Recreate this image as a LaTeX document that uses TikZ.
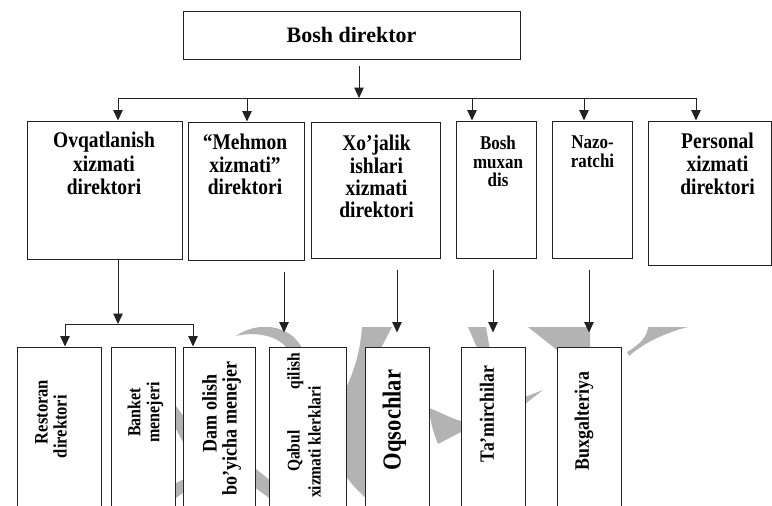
\documentclass[tikz,border=0pt]{standalone}
\usepackage{fontspec}
\setmainfont{Liberation Serif}
\newfontfamily\nrw{Liberation Serif}[FakeStretch=0.87]
\usepackage{tikz}
\usetikzlibrary{positioning,arrows.meta,calc}
\definecolor{ink}{HTML}{222222}
\definecolor{wmark}{HTML}{B3B3B3}
\tikzset{
  box/.style={draw=ink,fill=white,line width=1pt,inner sep=0pt},
  arr/.style={draw=ink,line width=1pt,-{Triangle[width=9.5pt,length=10.5pt]}},
  ttl/.style={anchor=north,align=center,inner sep=0pt,font=\nrw\bfseries\fontsize{22.4}{#1}\selectfont},
  ttl/.default=23.3,
  vtx/.style={rotate=90,align=left,inner sep=0pt},
}
\begin{document}
\begin{tikzpicture}[x=1pt,y=-1pt]
    \useasboundingbox (0,0) rectangle (772,506);
    % watermark behind the lower row
    \begin{scope}
      \clip (0,327) rectangle (772,506);
      \fill[wmark] (236,336) .. controls (255,322) and (290,322) .. (303,350) -- (288,350) .. controls (280,336) and (256,331) .. cycle;
      \fill[wmark] (362,327) -- (392,327) -- (380,350) -- (380,500) -- (368,500) .. controls (355,488) and (345,478) .. (340,465) -- (340,400) .. controls (352,378) and (360,355) .. cycle;
      \fill[wmark] (429,408) .. controls (440,412) and (450,418) .. (461,421) -- (525,397) -- (543,390) -- (525,404) -- (461,432) -- (438,444) .. controls (433,432) and (430,420) .. cycle;
      \fill[wmark] (468,327) -- (486,327) -- (490,350) -- (478,350) -- cycle;
      \fill[wmark] (528,327) -- (590,327) -- (590,350) -- (557,350) -- cycle;
      \fill[wmark] (627,352) .. controls (640,345) and (648,335) .. (648,327) -- (688,327) .. controls (665,333) and (645,342) .. (629,356) -- cycle;
      \fill[wmark] (170,398) -- (190,425) -- (190,455) -- (170,418) -- cycle;
      \fill[wmark] (170,486) -- (190,476) -- (190,488) -- (170,502) -- cycle;
      \fill[wmark] (250,464) -- (272,482) -- (272,500) -- (250,484) -- cycle;
    \end{scope}
    % top
    \node[box,minimum width=337pt,minimum height=48pt,font=\bfseries\fontsize{22}{26}\selectfont] (top) at (351.5,35) {Bosh direktor};
    % second row
    \node[box,minimum width=155pt,minimum height=138pt] (ovq) at (104.5,190) {};
    \node[box,minimum width=116pt,minimum height=138pt] (meh) at (246,191) {};
    \node[box,minimum width=129pt,minimum height=136pt] (xoj) at (375.5,190) {};
    \node[box,minimum width=80pt,minimum height=137pt] (mux) at (496,189.5) {};
    \node[box,minimum width=80pt,minimum height=137pt] (naz) at (592,189.5) {};
    \node[box,minimum width=123pt,minimum height=144pt] (per) at (709.5,193) {};
    \node[ttl] (ovqT) at (104,132) {Ovqatlanish\\xizmati\\direktori};
    \node[ttl=22.5] (mehT) at (245,134) {“Mehmon\\xizmati”\\direktori};
    \node[ttl=22.3] (xojT) at (376.5,135) {Xo’jalik\\ishlari\\xizmati\\direktori};
    \node[ttl,font=\nrw\bfseries\fontsize{19.5}{18.5}\selectfont] (muxT) at (498,136) {Bosh\\muxan\\dis};
    \node[ttl,font=\nrw\bfseries\fontsize{19.5}{18.5}\selectfont] (nazT) at (592.5,136) {Nazo-\\ratchi};
    \node[ttl=22.7] (perT) at (717.5,133) {Personal\\xizmati\\direktori};
    % third row
    \node[box,minimum width=84pt,minimum height=183pt] (res) at (59,438.5) {};
    \node[box,minimum width=64pt,minimum height=183pt] (ban) at (143,438.5) {};
    \node[box,minimum width=72pt,minimum height=183pt] (dam) at (219,438.5) {};
    \node[box,minimum width=77pt,minimum height=183pt] (qab) at (307.5,438.5) {};
    \node[box,minimum width=64pt,minimum height=183pt] (oqs) at (397,438.5) {};
    \node[box,minimum width=64pt,minimum height=183pt] (tam) at (493,438.5) {};
    \node[box,minimum width=64pt,minimum height=183pt] (bux) at (589,438.5) {};
    \node[vtx,font=\nrw\bfseries\fontsize{19}{19}\selectfont] (resT) at (51,419) {\hspace*{14pt}Restoran\\direktori};
    \node[vtx,align=center,font=\nrw\bfseries\fontsize{18.4}{19}\selectfont] (banT) at (145.5,412.5) {Banket\\menejeri};
    \node[vtx,font=\nrw\bfseries\fontsize{20.7}{20}\selectfont] (damT) at (221.7,428.5) {\hspace*{43pt}Dam olish\\bo’yicha menejer};
    \node[vtx,font=\nrw\bfseries\fontsize{17.8}{21}\selectfont] (qabT) at (304,425.5) {\hspace*{26pt}Qabul\hspace{41.5pt}qilish\\xizmati klerklari};
    \node[vtx,font=\nrw\bfseries\fontsize{25.9}{26}\selectfont] (oqsT) at (394.5,420) {Oqsochlar};
    \node[vtx,font=\nrw\bfseries\fontsize{20.3}{20}\selectfont] (tamT) at (487,414) {Ta’mirchilar};
    \node[vtx,font=\nrw\bfseries\fontsize{20.5}{20}\selectfont] (buxT) at (584,421) {Buxgalteriya};
    % connectors
    \coordinate (bus) at (359,98);
    \draw[arr] ([xshift=7.5pt,yshift=-6pt]top.south) -- (bus);
    \foreach \x/\b in {118/ovq,247/meh,472/mux,584/naz,696/per}{
      \coordinate (d\b) at (\x,98);
      \draw[arr] (d\b) -- (d\b |- \b.north);
    }
    \draw[ink,line width=1pt,line cap=rect] (dovq) -- (dper);
    \coordinate (bus2) at (118,324);
    \draw[arr] (bus2 |- ovq.south) -- (bus2);
    \coordinate (dres) at (65,324);
    \coordinate (ddam) at (193,324);
    \draw[ink,line width=1pt,line cap=rect] (dres) -- (ddam);
    \draw[arr] (dres) -- (dres |- res.north);
    \draw[arr] (ddam) -- (ddam |- dam.north);
    \foreach \u/\b/\x in {meh/qab/284,xoj/oqs/397,mux/tam/493,naz/bux/589}
      \draw[arr] ($(\x,0 |- \u.south)+(0,11)$) -- ($(\x,0 |- \b.north)+(0,-14)$);
\end{tikzpicture}
\end{document}
